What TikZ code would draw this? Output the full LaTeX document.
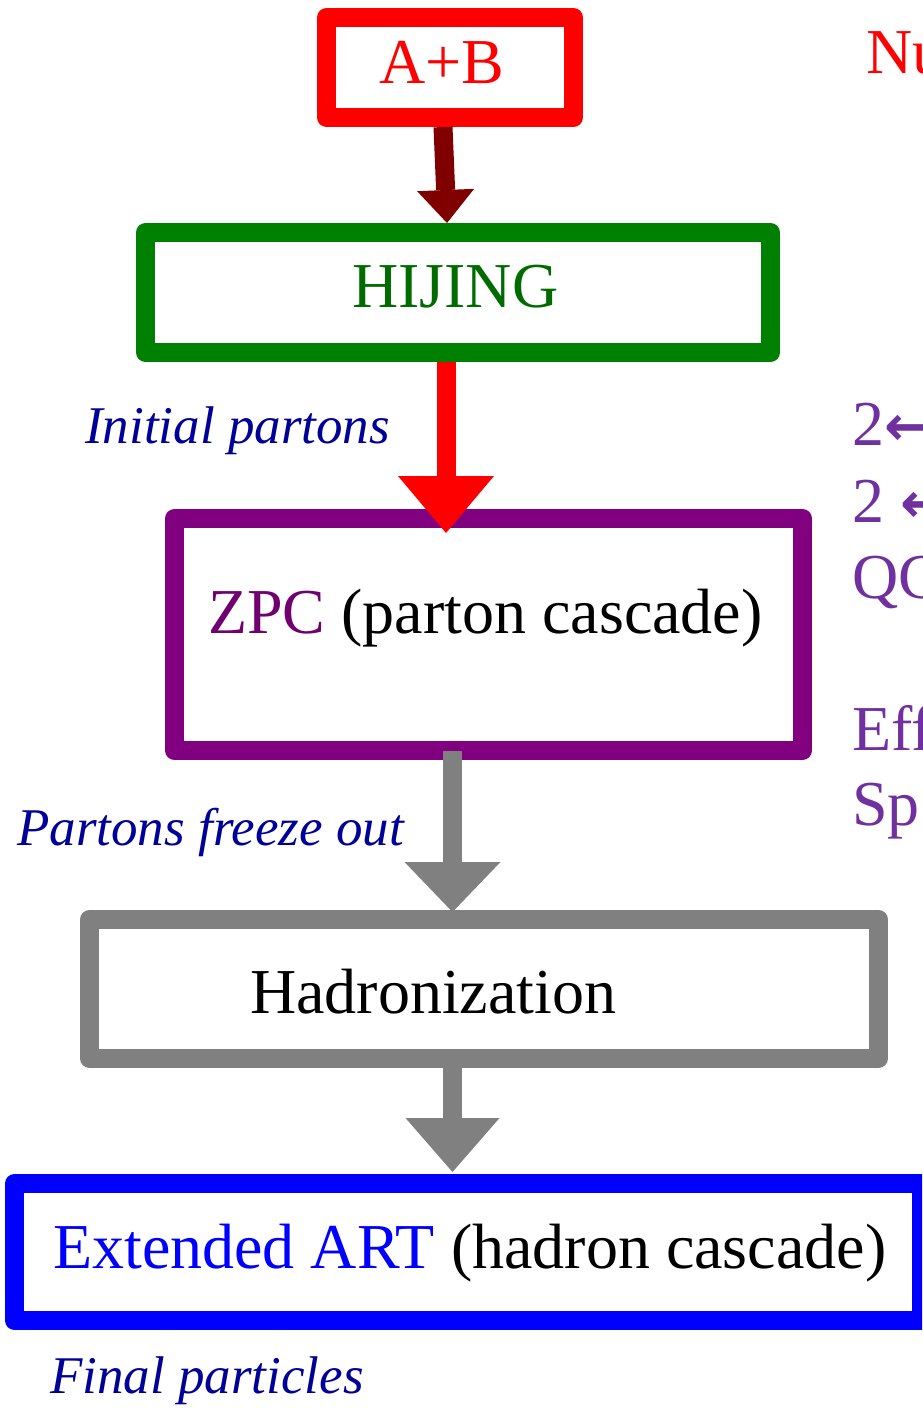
\documentclass[tikz,border=0pt]{standalone}
\usepackage{fontspec}
\setmainfont{Liberation Serif}
\newfontfamily\arrowfont{DejaVu Sans}
\usetikzlibrary{arrows.meta}
\definecolor{abred}{HTML}{FF0000}
\definecolor{stepred}{HTML}{800000}
\definecolor{hijgreen}{HTML}{008000}
\definecolor{hijtext}{HTML}{006C00}
\definecolor{zpcpurple}{HTML}{800080}
\definecolor{zpctext}{HTML}{700070}
\definecolor{hadgray}{HTML}{808080}
\definecolor{artblue}{HTML}{0000FF}
\definecolor{lblblue}{HTML}{000099}
\definecolor{notepurple}{HTML}{7030A0}
\begin{document}
\begin{tikzpicture}[x=1pt, y=-1pt,
  box/.style={draw, line width=19pt, line join=round, inner sep=0pt},
  txt/.style={anchor=base west, inner sep=0pt, font=\fontsize{64}{64}\selectfont},
  lbl/.style={anchor=base west, inner sep=0pt, text=lblblue, font=\fontsize{53}{53}\selectfont\itshape},
  note/.style={txt, text=notepurple},
  flow/.style n args={2}{line width=19pt, -{Triangle[width=#1, length=#2, line width=0pt]}}]
\useasboundingbox (0,0) rectangle (922,1408);
\clip (0,0) rectangle (922,1408);

\node (ab) [box, draw=abred, minimum width=247pt, minimum height=100pt] at (450,67.5) {};
\node (hijing) [box, draw=hijgreen, minimum width=625pt, minimum height=120pt] at (458,292.5) {};
\node (zpc) [box, draw=zpcpurple, minimum width=628pt, minimum height=232pt] at (488.5,634.5) {};
\node (had) [box, draw=hadgray, minimum width=789pt, minimum height=139pt] at (484,989) {};
\node (art) [box, draw=artblue, minimum width=907pt, minimum height=137pt] at (468,1252) {};

\draw [flow={57pt}{33pt}, draw=stepred] ([xshift=-7pt]ab.south) -- ([xshift=-11pt]hijing.north);
\draw [flow={96pt}{57pt}, draw=abred] ([xshift=-12pt]hijing.south) -- ([xshift=-42.5pt,yshift=-24pt]zpc.north);
\draw [flow={96pt}{50pt}, draw=hadgray] ([xshift=-36pt,yshift=9pt]zpc.south) -- ([xshift=-31.5pt,yshift=-2pt]had.north);
\draw [flow={94pt}{54pt}, draw=hadgray] ([xshift=-31.5pt]had.south) -- ([xshift=-15.5pt,yshift=2pt]art.north);

\node (abtxt) [txt, text=abred] at (379,83) {A+B};
\node (hijtxt) [txt, text=hijtext] at (352,307) {HIJING};
\node (zpctxt) [txt] at (208,633) {\textcolor{zpctext}{ZPC} (parton cascade)};
\node (hadtxt) [txt] at (250,1013) {Hadronization};
\node (arttxt) [txt] at (53,1268) {\textcolor{artblue}{Extended ART} (hadron cascade)};

\node (initial) [lbl] at (85,443) {Initial partons};
\node (freeze) [lbl] at (17,845) {Partons freeze out};
\node (final) [lbl] at (50,1393) {Final particles};

% notes cut by the right edge
\node (nu) [txt, text=abred] at (866,73) {Nu};
\node (twoa) [note] at (852,445) {2{\arrowfont\bfseries\fontsize{56}{56}\selectfont ←}};
\node (twob) [note] at (852,522) {2 {\arrowfont\bfseries\fontsize{56}{56}\selectfont ←}};
\node (qc) [note] at (852,598) {QC};
\node (eff) [note] at (852,750) {Eff};
\node (sp) [note] at (852,825) {Sp};
\end{tikzpicture}
\end{document}
